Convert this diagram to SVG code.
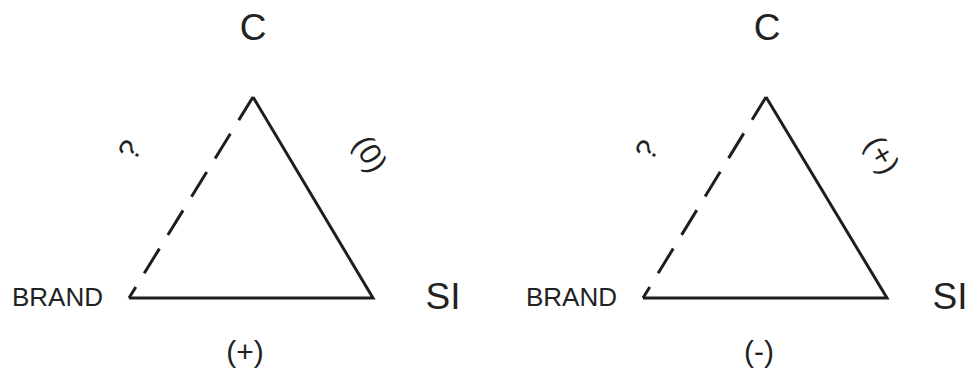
<svg xmlns="http://www.w3.org/2000/svg" width="971" height="368" viewBox="0 0 971 368">
<style>
text{font-family:"Liberation Sans",Arial,sans-serif;fill:#222;}
.edge{stroke:#1e1e1e;stroke-width:3;fill:none;stroke-linecap:butt;stroke-linejoin:miter;}
.dash{stroke-dasharray:29 16;stroke-dashoffset:16;}
.big{font-size:37px;text-anchor:middle;}
.lab{font-size:26px;}
.sig{font-size:30px;text-anchor:middle;}
.bot{font-size:30px;text-anchor:middle;}
</style>
<rect width="971" height="368" fill="#fff"/>
<g id="connectors">
<path class="edge dash" d="M129,298 L253,97"/>
<path class="edge" d="M253,97 L373,298 L129,298"/>
<path class="edge dash" d="M643,298 L766,97"/>
<path class="edge" d="M766,97 L887,298 L643,298"/>
</g>
<g id="nodeC1"><text class="big" x="253" y="40">C</text></g>
<g id="nodeBrand1"><text class="lab" x="12" y="306">BRAND</text></g>
<g id="nodeSI1"><text class="big" x="443" y="309">SI</text></g>
<g id="nodeC2"><text class="big" x="767" y="40">C</text></g>
<g id="nodeBrand2"><text class="lab" x="526" y="306">BRAND</text></g>
<g id="nodeSI2"><text class="big" x="950" y="309">SI</text></g>
<g id="labels">
<text class="sig" transform="translate(130,150) rotate(-58)" y="10">?</text>
<text class="sig" transform="translate(370,154) rotate(59)" y="10">(0)</text>
<text class="sig" transform="translate(647,150) rotate(-58)" y="10">?</text>
<text class="sig" transform="translate(882,155) rotate(59)" y="10">(+)</text>
<text class="bot" x="245" y="362">(+)</text>
<text class="bot" x="759" y="362">(-)</text>
</g>
</svg>
